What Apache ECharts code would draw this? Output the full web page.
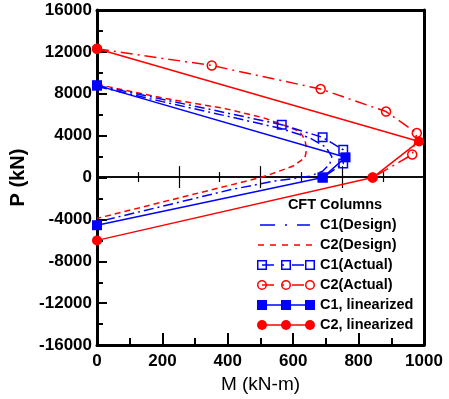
<!DOCTYPE html>
<html>
<head>
<meta charset="utf-8">
<script src="https://cdn.jsdelivr.net/npm/echarts@6/dist/echarts.min.js"></script>
<style>
  html, body { margin: 0; padding: 0; background: #fff; }
  #main { width: 449px; height: 399px; }
</style>
</head>
<body>
<div id="main"></div>
<script>
  // values: [M (kN-m), P (kN)]
  const c1Design = [[0, 8700], [200, 7250], [400, 5850], [560, 4700], [650, 3800], [700, 2900], [718, 2000], [712, 1300], [690, 600], [650, 120], [540, -350], [410, -1150], [0, -4250]];
  const c2Design = [[0, 8900], [200, 7600], [390, 6600], [510, 5700], [580, 4900], [620, 4400], [636, 3600], [641, 2700], [636, 1900], [600, 1100], [530, 300], [500, 0], [0, -3900]];
  const c1Actual = [[0, 8800], [565, 5050], [690, 3840], [753, 2650], [753, 1330], [690, 0]];
  const c2Actual = [[0, 12300], [351, 10700], [684, 8450], [884, 6300], [978, 4250], [964, 2200], [843, 0]];
  const c1Linear = [[0, 8800], [760, 1930], [690, 0], [0, -4550]];
  const c2Linear = [[0, 12300], [985, 3450], [843, 0], [0, -6000]];

  const legendTitle = "CFT Columns";
  const seriesNames = ["C1(Design)", "C2(Design)", "C1(Actual)", "C2(Actual)", "C1, linearized", "C2, linearized"];

  const BLUE = "#0000ff";
  const RED = "#ff0000";
  const FONT = "Liberation Sans";
  const plain = function (v) { return String(v); };

  var myChart = echarts.init(document.getElementById("main"));

  // hand drawn legend, the figure puts markers at both ends of each sample
  const legendStyles = [
    { color: BLUE, dash: [15, 10, 2, 10], x1: 260, x2: 310 },
    { color: RED, dash: [6, 6], x1: 258, x2: 312 },
    { color: BLUE, dash: [12, 8, 2, 8], x1: 262, x2: 310, sym: "rect", fill: false },
    { color: RED, dash: [12, 8, 2, 8], x1: 262, x2: 310, sym: "circle", fill: false },
    { color: BLUE, dash: null, x1: 262, x2: 310, sym: "rect", fill: true },
    { color: RED, dash: null, x1: 262, x2: 310, sym: "circle", fill: true },
  ];
  const graphics = [
    {
      type: "text", x: 335, y: 205,
      style: { text: legendTitle, fontSize: 14.5, fontWeight: "bold", fontFamily: FONT, fill: "#000", align: "center", verticalAlign: "middle" },
    },
  ];
  seriesNames.forEach(function (name, i) {
    const st = legendStyles[i];
    const y = 225 + i * 20;
    graphics.push({
      type: "line",
      shape: { x1: st.x1, y1: y, x2: st.x2, y2: y },
      style: { stroke: st.color, lineWidth: 1.5, lineDash: st.dash },
    });
    if (st.sym) {
      [262, 286, 310].forEach(function (sx) {
        const s = st.fill ? 10 : 8.5;
        const style = st.fill
          ? { fill: st.color }
          : { fill: "transparent", stroke: st.color, lineWidth: 1.5 };
        if (st.sym === "rect") {
          graphics.push({ type: "rect", shape: { x: sx - s / 2, y: y - s / 2, width: s, height: s }, style: style, z: 101 });
        } else {
          graphics.push({ type: "circle", shape: { cx: sx, cy: y, r: s / 2 }, style: style, z: 101 });
        }
      });
    }
    graphics.push({
      type: "text", x: 320, y: y,
      style: { text: name, fontSize: 14.5, fontWeight: "bold", fontFamily: FONT, fill: "#000", verticalAlign: "middle" },
    });
  });

  const hollow = function (color) {
    return { color: "transparent", borderColor: color, borderWidth: 1.5 };
  };

  // the P = 0 line carries its own ticks every 125, crossing the line
  const zeroAxis = function (inside) {
    return {
      type: "value", position: "bottom", offset: -168, min: 0, max: 1000, interval: 250,
      axisLine: { onZero: false, lineStyle: { color: "#000", width: 1.5 } },
      axisTick: { inside: inside, length: 11, lineStyle: { color: "#000", width: 1.2 } },
      minorTick: { show: true, splitNumber: 2, length: 5, lineStyle: { color: "#000", width: 1.2 } },
      axisLabel: { show: false }, splitLine: { show: false }, minorSplitLine: { show: false },
    };
  };

  myChart.setOption({
    animation: false,
    backgroundColor: "#fff",
    textStyle: { fontFamily: FONT },
    grid: { left: 97, right: 25, top: 10, bottom: 53, containLabel: false },
    xAxis: [
      {
        type: "value", position: "bottom", min: 0, max: 1000, interval: 200,
        name: "M (kN-m)", nameLocation: "middle", nameGap: 25,
        nameTextStyle: { fontSize: 19, color: "#000", fontFamily: FONT },
        axisLine: { onZero: false, lineStyle: { color: "#000", width: 3 } },
        axisTick: { inside: true, length: 12, lineStyle: { color: "#000", width: 2 } },
        minorTick: { show: true, splitNumber: 2, length: 7, lineStyle: { color: "#000", width: 2 } },
        axisLabel: { fontSize: 17, fontWeight: "bold", color: "#000", margin: 8, fontFamily: FONT, formatter: plain },
        splitLine: { show: false },
      },
      {
        type: "value", position: "top", min: 0, max: 1000,
        axisLine: { onZero: false, lineStyle: { color: "#000", width: 3 } },
        axisTick: { show: false }, axisLabel: { show: false }, splitLine: { show: false },
      },
      zeroAxis(true),
      zeroAxis(false),
    ],
    yAxis: [
      {
        type: "value", position: "left", min: -16000, max: 16000, interval: 4000,
        name: "P (kN)", nameLocation: "middle", nameGap: 61,
        nameTextStyle: { fontSize: 20, fontWeight: "bold", color: "#000", fontFamily: FONT },
        axisLine: { onZero: false, lineStyle: { color: "#000", width: 3 } },
        axisTick: { inside: true, length: 10, lineStyle: { color: "#000", width: 2 } },
        minorTick: { show: true, splitNumber: 2, length: 6, lineStyle: { color: "#000", width: 2 } },
        axisLabel: { fontSize: 17, fontWeight: "bold", color: "#000", margin: 5, fontFamily: FONT, formatter: plain },
        splitLine: { show: false },
      },
      {
        type: "value", position: "right", min: -16000, max: 16000,
        axisLine: { onZero: false, lineStyle: { color: "#000", width: 3 } },
        axisTick: { show: false }, axisLabel: { show: false }, splitLine: { show: false },
      },
    ],
    graphic: graphics,
    series: [
      {
        name: seriesNames[0], type: "line", data: c1Design, showSymbol: false, clip: false,
        lineStyle: { color: BLUE, width: 1.5, type: [10, 4, 2, 4] }, z: 2,
      },
      {
        name: seriesNames[1], type: "line", data: c2Design, showSymbol: false, clip: false,
        lineStyle: { color: RED, width: 1.5, type: [6, 4] }, z: 2,
      },
      {
        name: seriesNames[2], type: "line", data: c1Actual, symbol: "rect", symbolSize: 8.5, clip: false,
        itemStyle: hollow(BLUE), lineStyle: { color: BLUE, width: 1.5, type: [10, 4, 2, 4] }, z: 3,
      },
      {
        name: seriesNames[3], type: "line", data: c2Actual, symbol: "circle", symbolSize: 9, clip: false,
        itemStyle: hollow(RED), lineStyle: { color: RED, width: 1.5, type: [12, 5, 2, 5] }, z: 3,
      },
      {
        name: seriesNames[4], type: "line", data: c1Linear, symbol: "rect", symbolSize: 10, clip: false,
        itemStyle: { color: BLUE }, lineStyle: { color: BLUE, width: 1.5 }, z: 4,
      },
      {
        name: seriesNames[5], type: "line", data: c2Linear, symbol: "circle", symbolSize: 10, clip: false,
        itemStyle: { color: RED }, lineStyle: { color: RED, width: 1.5 }, z: 4,
      },
    ],
  });
</script>
</body>
</html>
